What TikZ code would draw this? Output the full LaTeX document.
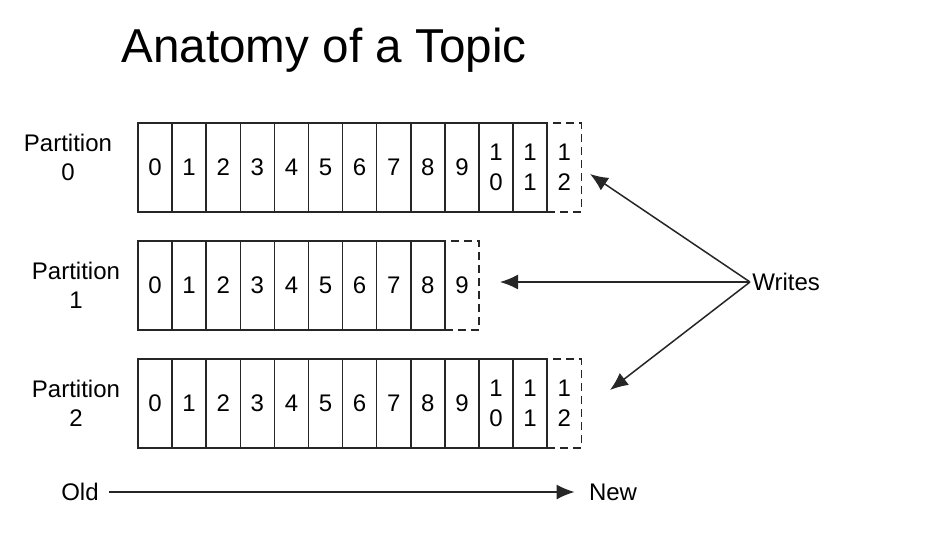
\documentclass[tikz,border=0pt]{standalone}
\usepackage{fontspec}
\setmainfont{Liberation Sans}
\usetikzlibrary{arrows.meta, positioning}

\begin{document}
\begin{tikzpicture}[
  x=0.5pt, y=-0.5pt,
  cel/.style  ={rectangle, draw=black!85, line width=0.75pt,
                minimum width=17.05pt, minimum height=44.5pt, inner sep=0pt,
                align=center, font=\fontsize{12}{15}\selectfont},
  dcel/.style ={cel, dash pattern=on 4pt off 2.5pt},
  lbl/.style  ={align=center, font=\fontsize{12}{14.5}\selectfont},
  txt/.style  ={inner sep=1pt, font=\fontsize{12}{14}\selectfont},
  arr/.style  ={-{Latex[length=9pt, width=7.5pt]}, line width=0.75pt, color=black!85},
]
\useasboundingbox (0,0) rectangle (946,536);

%% ═══ Titulo ═══
\node[font=\fontsize{23.8}{28}\selectfont] (title) at (324,50) {Anatomy of a Topic};

%% ═══ Partition 0 ═══
\node[lbl] (lab0) at (68,157) {Partition\\0};
\node[dcel] (p0-12) at (138+34.1*12.5,167.5) {1\\2};
\foreach \i in {0,...,9}
  \node[cel] (p0-\i) at (138+34.1*\i+17.05,167.5) {\i};
\node[cel] (p0-10) at (138+34.1*10.5,167.5) {1\\0};
\node[cel] (p0-11) at (138+34.1*11.5,167.5) {1\\1};

%% ═══ Partition 1 ═══
\node[lbl] (lab1) at (76,285) {Partition\\1};
\node[dcel] (p1-9) at (138+34.1*9.5,285.5) {9};
\foreach \i in {0,...,8}
  \node[cel] (p1-\i) at (138+34.1*\i+17.05,285.5) {\i};

%% ═══ Partition 2 ═══
\node[lbl] (lab2) at (76,403) {Partition\\2};
\node[dcel] (p2-12) at (138+34.1*12.5,403.5) {1\\2};
\foreach \i in {0,...,9}
  \node[cel] (p2-\i) at (138+34.1*\i+17.05,403.5) {\i};
\node[cel] (p2-10) at (138+34.1*10.5,403.5) {1\\0};
\node[cel] (p2-11) at (138+34.1*11.5,403.5) {1\\1};

%% ═══ Writes ═══
\node[txt, anchor=west] (wr) at (750,282) {Writes};
\coordinate (w0) at (590,174);
\coordinate (w1) at (500,282);
\coordinate (w2) at (610,390);
\draw[arr] (wr.west) -- (w0);
\draw[arr] (wr.west) -- (w1);
\draw[arr] (wr.west) -- (w2);

%% ═══ Old -> New ═══
\node[txt] (old) at (80,492) {Old};
\node[txt] (new) at (613,492) {New};
\draw[arr, shorten <=4pt, shorten >=6pt] (old.east) -- (new.west);

\end{tikzpicture}
\end{document}
